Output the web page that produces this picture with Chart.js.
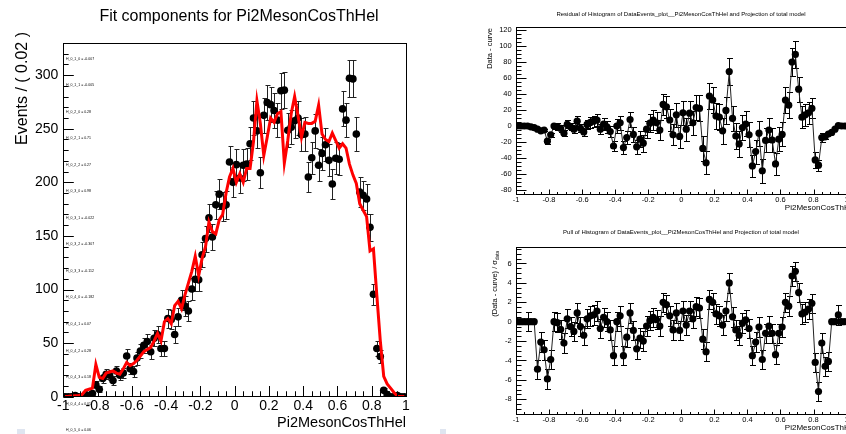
<!DOCTYPE html>
<html>
<head>
<meta charset="utf-8">
<script src="https://cdn.jsdelivr.net/npm/chart.js@4.4.1/dist/chart.umd.min.js"></script>
<style>
  html, body { margin: 0; padding: 0; background: #fff; width: 846px; height: 434px; overflow: hidden; position: relative; }
  canvas { position: absolute; }
  #fit { left: 0; top: 0; }
  #resid { left: 440px; top: 0; }
  #pull { left: 440px; top: 220px; }
  .corner { position: absolute; background: #dfe5f0; width: 8px; height: 5px; top: 429px; }
</style>
</head>
<body>
<canvas id="fit" width="440" height="434"></canvas>
<canvas id="resid" width="440" height="220"></canvas>
<canvas id="pull" width="440" height="220"></canvas>
<div class="corner" style="left:17px"></div>
<div class="corner" style="left:440px;width:6px"></div>
<script>
// Histogram binning of Pi2MesonCosThHel: 100 bins of 0.02 on [-1, 1]
const binLow = -1;
const binWidth = 0.02;

// Events per bin
const events = [
  0, 0, 0, 1, 0, 0, 2, 1, 3, 11,
  7, 17, 21, 20, 15, 24, 20, 22, 38, 26,
  23.5, 36, 42.5, 48, 51.5, 42, 54.5, 58, 45, 45,
  73, 72, 58, 74.5, 90, 84.5, 80, 100.5, 109.5, 109,
  132.5, 147.5, 167, 149, 179, 189, 177.5, 179, 219, 200,
  216.5, 204, 216, 217, 236, 260, 248, 209, 262.5, 274.5,
  272.5, 267, 258, 285.5, 286, 248.5, 251.5, 257.5, 260, 244.5,
  245, 205, 223, 248, 216, 227, 235, 220.5, 198.5, 222.5,
  221.5, 268.5, 258, 297, 296.5, 245, 191, 188, 184.5, 158,
  95.5, 45, 37.5, 6, 2, 0, 0, 1, 0, 0
];

// Total model projection at the bin centres
const curve = [
  0.3, 0.4, 0.6, 0.8, 1, 2, 6, 7, 8, 30,
  18, 17, 22, 23, 24, 22, 21, 26, 32, 29,
  31, 34, 38, 42, 44, 46, 52, 59, 52, 70,
  73, 68, 85, 89, 82, 95, 106, 117, 131, 113,
  129, 140, 163, 154, 152, 165, 170, 190, 205, 213,
  200, 208, 200, 213, 213, 238, 276, 255, 225, 242,
  260, 256, 264, 266, 218, 239, 264, 280, 262, 242,
  256, 255, 255, 257, 272, 245, 240, 238, 246, 239,
  232, 236, 232, 217, 207, 199, 180, 174, 168, 136,
  138, 94, 52, 19, 12, 8, 4, 0.5, 0.3, 0.3
];

// Data - curve
const residual = [
  0, 0, 0, 0, -1, -2, -4, -6, -5, -19,
  -11, 0, -1, -3, -9, 2, -1, -4, 6, -3,
  -7.5, 2, 4.5, 6, 7.5, -4, 2.5, -1, -7, -25,
  0, 4, -27, -14.5, 8, -10.5, -26, -16.5, -21.5, -4,
  3.5, 7.5, 4, -5, 27, 24, 7.5, -11, 14, -13,
  16.5, -4, 16, 4, 23, 22, -28, -46, 37.5, 32.5,
  12.5, 11, -6, 19.5, 68, 9.5, -12.5, -22.5, -2, 2.5,
  -11, -50, -32, -9, -56, -18, -5, -17.5, -47.5, -16.5,
  -10.5, 32.5, 26, 80, 89.5, 46, 11, 14, 16.5, 22,
  -42.5, -49, -14.5, -13.5, -10, -8, -4, 0.5, 0, 0
];

// (Data - curve) / sigma_data
const pull = [
  0, 0, 0, 0, 0, 0, -4.9, -2.1, -2.9, -5.9,
  -3.9, 0, -0.1, -0.8, -2.2, 0.3, -0.5, -1.0, 0.9, -0.5,
  -1.4, 0.3, 0.6, 0.7, 1.1, -0.7, 0.45, 0, -0.85, -3.5,
  0, 0.6, -3.5, -1.6, 0.9, -0.9, -2.8, -1.7, -2.0, -0.45,
  0.1, 0.45, 0.2, -0.45, 2.0, 1.75, 0.6, -0.85, 0.9, -0.9,
  1.1, -0.35, 1.1, 0.3, 1.55, 1.4, -1.8, -3.1, 2.3, 2.0,
  0.8, 0.6, -0.35, 1.1, 4.0, 0.5, -0.85, -1.4, -0.15, 0.2,
  -0.7, -3.5, -2.1, -0.55, -3.9, -1.2, -0.45, -1.2, -3.4, -1.2,
  -0.55, 2.0, 1.6, 4.7, 5.2, 3.0, 0.8, 1.0, 1.3, 1.9,
  -4.2, -7.2, -2.2, -4.6, -4.1, 0, 0, 0.7, 0, 0
];

// Fit parameters shown in the frame
const paramNames = [
  'H_0_1_0', 'H_0_1_1', 'H_0_2_0', 'H_0_2_1', 'H_0_2_2', 'H_0_3_0', 'H_0_3_1', 'H_0_3_2',
  'H_0_3_3', 'H_0_4_0', 'H_0_4_1', 'H_0_4_2', 'H_0_4_3', 'H_0_4_4', 'H_0_5_0'
];
const paramValues = [
  '-0.007', '-0.005', '0.28', '0.71', '0.27', '0.98', '-0.022', '-0.307',
  '-0.112', '-0.182', '0.07', '0.28', '0.18', '0.01', '0.06'
];

// Axis ticks
const xTicks = [-1, -0.8, -0.6, -0.4, -0.2, 0, 0.2, 0.4, 0.6, 0.8, 1];
const fitYTicks = [0, 50, 100, 150, 200, 250, 300];
const residYTicks = [-80, -60, -40, -20, 0, 20, 40, 60, 80, 100, 120];
const pullYTicks = [-8, -6, -4, -2, 0, 2, 4, 6];

const FONT = '"Liberation Sans", Arial, Helvetica, sans-serif';
const binCenters = events.map((_, i) => Math.round((binLow + binWidth * (i + 0.5)) * 1000) / 1000);
const fmt = v => String(Math.round(v * 100) / 100);
const poisson = n => Math.sqrt(n);

// ROOT-like frame: inner ticks, error bars and free text
function rootStyle(s) {
  return {
    id: 'rootStyle',
    beforeDatasetsDraw(chart) {
      const { ctx, chartArea: a, scales: { x, y } } = chart;
      ctx.save();
      ctx.beginPath();
      ctx.rect(a.left, a.top, a.right - a.left, a.bottom - a.top);
      ctx.clip();
      ctx.strokeStyle = s.errColor || '#000';
      ctx.lineWidth = 1;
      chart.data.datasets.forEach(ds => {
        if (!ds.errorBars) return;
        ds.data.forEach((p, i) => {
          const e = ds.errorBars[i];
          if (!e || (e[0] === 0 && e[1] === 0)) return;
          const px = Math.round(x.getPixelForValue(p.x)) + 0.5;
          const yl = Math.round(y.getPixelForValue(p.y - e[0])) + 0.5;
          const yh = Math.round(y.getPixelForValue(p.y + e[1])) + 0.5;
          ctx.beginPath();
          ctx.moveTo(px, yl); ctx.lineTo(px, yh);
          ctx.moveTo(px - s.cap, yl); ctx.lineTo(px + s.cap + 1, yl);
          ctx.moveTo(px - s.cap, yh); ctx.lineTo(px + s.cap + 1, yh);
          ctx.stroke();
        });
      });
      ctx.restore();
    },
    afterDraw(chart) {
      const { ctx, chartArea: a, scales: { x, y } } = chart;
      ctx.save();
      ctx.strokeStyle = '#000';
      ctx.lineWidth = 1;
      // frame
      const L = Math.round(a.left) + 0.5, T = Math.round(a.top) + 0.5;
      const R = Math.round(a.right) + 0.5, B = Math.round(a.bottom) - 0.5;
      ctx.strokeRect(L, T, R - L, B - T);
      // ticks
      ctx.beginPath();
      const xt = (v, len) => { const p = Math.round(x.getPixelForValue(v)) + 0.5; ctx.moveTo(p, B); ctx.lineTo(p, B - len); };
      const yt = (v, len) => { const p = Math.round(y.getPixelForValue(v)) + 0.5; ctx.moveTo(L, p); ctx.lineTo(L + len, p); };
      for (let k = Math.ceil(x.min / s.xMinor - 1e-6); k * s.xMinor <= x.max + 1e-9; k++) xt(k * s.xMinor, s.xLen / 2);
      for (let k = Math.ceil(y.min / s.yMinor - 1e-6); k * s.yMinor <= y.max + 1e-9; k++) yt(k * s.yMinor, s.yLen / 2);
      s.xMajor.forEach(v => xt(v, s.xLen));
      s.yMajor.forEach(v => yt(v, s.yLen));
      ctx.stroke();
      // text
      ctx.fillStyle = '#000';
      s.texts.forEach(t => {
        ctx.save();
        ctx.font = t.size + 'px ' + FONT;
        ctx.textBaseline = 'alphabetic';
        if (t.rot) {
          ctx.translate(t.x, t.y);
          ctx.rotate(-Math.PI / 2);
          const subFont = (t.size * 0.62) + 'px ' + FONT;
          const w = ctx.measureText(t.text).width;
          let sw = 0;
          if (t.sub) { ctx.font = subFont; sw = ctx.measureText(t.sub).width; ctx.font = t.size + 'px ' + FONT; }
          ctx.textAlign = 'left';
          ctx.fillText(t.text, -(w + sw), 0);
          if (t.sub) { ctx.font = subFont; ctx.fillText(t.sub, -sw, t.size * 0.25); }
        } else {
          ctx.textAlign = t.align || 'left';
          ctx.fillText(t.text, t.x, t.y);
        }
        ctx.restore();
      });
      ctx.restore();
    }
  };
}

function axis(ticks, min, max, fit, size, pad, isX) {
  return {
    type: 'linear', min, max,
    grid: { display: false, drawTicks: false },
    border: { display: false },
    afterBuildTicks: sc => { sc.ticks = ticks.map(v => ({ value: v })); },
    afterFit: sc => { if (isX) sc.height = fit; else sc.width = fit; },
    ticks: {
      autoSkip: false, maxRotation: 0, minRotation: 0, padding: pad,
      color: '#000', font: { family: FONT, size },
      callback: v => fmt(v)
    }
  };
}

const common = {
  responsive: false, animation: false, devicePixelRatio: 1, events: [],
  plugins: { legend: { display: false }, tooltip: { enabled: false } }
};

// Left: data and total fit
const paramTexts = paramNames.map((n, i) => ({
  text: n + ' = ' + paramValues[i], x: 66, y: 59.5 + 26.55 * i, size: 3.5
}));
new Chart(document.getElementById('fit'), {
  type: 'scatter',
  data: {
    datasets: [
      {
        label: 'DataEvents', order: 1,
        data: binCenters.map((x, i) => ({ x, y: events[i] })),
        errorBars: events.map(n => [Math.min(n, poisson(n)), poisson(n)]),
        pointRadius: 3.8, pointBackgroundColor: '#000', pointBorderWidth: 0, showLine: false
      },
      {
        label: 'total model', order: 0,
        data: binCenters.map((x, i) => ({ x, y: curve[i] })),
        showLine: true, borderColor: '#ff0000', borderWidth: 3, pointRadius: 0, tension: 0
      }
    ]
  },
  options: {
    ...common,
    layout: { padding: { left: 0, top: 43, right: 34, bottom: 0 } },
    scales: {
      x: axis(xTicks, -1, 1, 37.3, 14, 1, true),
      y: axis(fitYTicks, 0, 330, 63.3, 14, 5, false)
    }
  },
  plugins: [rootStyle({
    cap: 2, errColor: '#222', xMajor: xTicks, xMinor: 0.05, xLen: 10.5, yMajor: fitYTicks, yMinor: 10, yLen: 10.3,
    texts: [
      { text: 'Fit components for Pi2MesonCosThHel', x: 239, y: 21, size: 16, align: 'center' },
      { text: 'Pi2MesonCosThHel', x: 406, y: 427, size: 14.5, align: 'right' },
      { text: 'Events / ( 0.02 )', x: 27, y: 32, size: 16, rot: true }
    ].concat(paramTexts)
  })]
});

// Right top: residual
new Chart(document.getElementById('resid'), {
  type: 'scatter',
  data: {
    datasets: [{
      label: 'residual',
      data: binCenters.map((x, i) => ({ x, y: residual[i] })),
      errorBars: events.map(n => [poisson(n), poisson(n)]),
      showLine: true, borderColor: '#222', borderWidth: 1, tension: 0,
      pointRadius: 3.6, pointBackgroundColor: '#000', pointBorderWidth: 0
    }]
  },
  options: {
    ...common,
    layout: { padding: { left: 0, top: 27.3, right: 33.4, bottom: 0 } },
    scales: {
      x: axis(xTicks, -1, 1, 25, 7.5, 0, true),
      y: axis(residYTicks, -86.3, 123.4, 76, 7.5, 4.3, false)
    }
  },
  plugins: [rootStyle({
    cap: 2.5, xMajor: xTicks, xMinor: 0.05, xLen: 5, yMajor: residYTicks, yMinor: 5, yLen: 10,
    texts: [
      { text: 'Residual of Histogram of DataEvents_plot__Pi2MesonCosThHel and Projection of total model', x: 241, y: 16, size: 6, align: 'center' },
      { text: 'Pi2MesonCosThHel', x: 416, y: 210, size: 8, align: 'right' },
      { text: 'Data - curve', x: 52, y: 28, size: 7.5, rot: true }
    ]
  })]
});

// Right bottom: pull
new Chart(document.getElementById('pull'), {
  type: 'scatter',
  data: {
    datasets: [{
      label: 'pull',
      data: binCenters.map((x, i) => ({ x, y: pull[i] })),
      errorBars: events.map(n => (n > 0 ? [1, 1] : [0, 0])),
      showLine: true, borderColor: '#222', borderWidth: 1, tension: 0,
      pointRadius: 3.6, pointBackgroundColor: '#000', pointBorderWidth: 0
    }]
  },
  options: {
    ...common,
    layout: { padding: { left: 0, top: 27.3, right: 33.4, bottom: 0 } },
    scales: {
      x: axis(xTicks, -1, 1, 25, 7.5, 0, true),
      y: axis(pullYTicks, -9.62, 7.67, 76, 7.5, 4.3, false)
    }
  },
  plugins: [rootStyle({
    cap: 2.5, xMajor: xTicks, xMinor: 0.05, xLen: 5, yMajor: pullYTicks, yMinor: 0.5, yLen: 10,
    texts: [
      { text: 'Pull of Histogram of DataEvents_plot__Pi2MesonCosThHel and Projection of total model', x: 241, y: 14, size: 6, align: 'center' },
      { text: 'Pi2MesonCosThHel', x: 416, y: 210, size: 8, align: 'right' },
      { text: '(Data - curve) / \u03c3', sub: 'data', x: 57, y: 31, size: 7.5, rot: true }
    ]
  })]
});
</script>
</body>
</html>
